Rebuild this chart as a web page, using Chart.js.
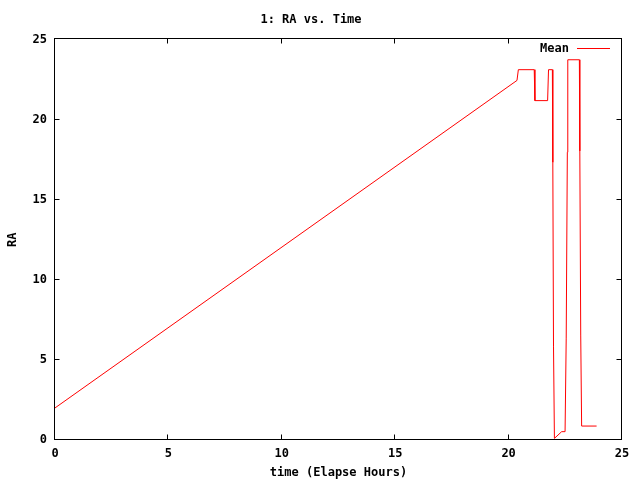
<!DOCTYPE html>
<html>
<head>
<meta charset="utf-8">
<script src="https://cdn.jsdelivr.net/npm/chart.js@4.4.0/dist/chart.umd.min.js"></script>
<style>
  html, body { margin: 0; padding: 0; background: #fff; }
  #wrap { width: 640px; height: 480px; }
</style>
</head>
<body>
<div id="wrap"><canvas id="raChart" width="640" height="480"></canvas></div>
<script>
// valores (tempo em horas, RA em horas)
var times = [0, 20.37, 20.43, 21.13, 21.16, 21.72, 21.76, 21.93, 21.95, 21.98, 22.02, 22.34, 22.49, 22.54, 22.59, 22.61, 23.12, 23.14, 23.18, 23.22, 23.88];
var raMean = [2.0, 22.44, 23.11, 23.11, 21.18, 21.18, 23.11, 23.11, 17.33, 5.86, 0.1, 0.52, 0.52, 6.36, 17.96, 23.73, 23.73, 18.04, 6.55, 0.87, 0.87];
var xTicks = [0, 5, 10, 15, 20, 25];
var yTicks = [0, 5, 10, 15, 20, 25];

var monoFont = { family: '"DejaVu Sans Mono", monospace', size: 12, weight: 'bold' };

var points = times.map(function (t, i) { return { x: t, y: raMean[i] }; });

// moldura estilo gnuplot com marcas para dentro nos quatro lados
var framePlugin = {
    id: 'frame',
    afterDatasetsDraw: function (chart) {
        var ctx = chart.ctx, a = chart.chartArea;
        var xs = chart.scales.x, ys = chart.scales.y;
        var L = Math.round(a.left) - 0.5, R = Math.round(a.right) - 0.5;
        var T = Math.round(a.top) - 0.5, B = Math.round(a.bottom) - 0.5;
        ctx.save();
        ctx.strokeStyle = '#000';
        ctx.lineWidth = 1;
        ctx.strokeRect(L, T, R - L, B - T);
        ctx.beginPath();
        xTicks.forEach(function (v) {
            var px = Math.round(xs.getPixelForValue(v)) - 0.5;
            ctx.moveTo(px, B); ctx.lineTo(px, B - 5);
            ctx.moveTo(px, T); ctx.lineTo(px, T + 5);
        });
        yTicks.forEach(function (v) {
            var py = Math.round(ys.getPixelForValue(v)) - 0.5;
            ctx.moveTo(L, py); ctx.lineTo(L + 5, py);
            ctx.moveTo(R, py); ctx.lineTo(R - 5, py);
        });
        ctx.stroke();
        ctx.restore();
    },
    afterDraw: function (chart) {
        // legenda dentro da área, texto à esquerda da amostra
        var ctx = chart.ctx, a = chart.chartArea;
        var ds = chart.data.datasets[0];
        var y = Math.round(a.top + 9) + 0.5;
        ctx.save();
        ctx.font = 'bold 12px "DejaVu Sans Mono", monospace';
        ctx.fillStyle = '#000';
        ctx.textAlign = 'right';
        ctx.textBaseline = 'middle';
        ctx.fillText(ds.label, a.right - 53, y);
        ctx.strokeStyle = ds.borderColor;
        ctx.lineWidth = 1;
        ctx.beginPath();
        ctx.moveTo(a.right - 45, y);
        ctx.lineTo(a.right - 12, y);
        ctx.stroke();
        ctx.restore();
    }
};

var raChart = new Chart(document.getElementById('raChart').getContext('2d'), {
    type: 'line',
    data: {
        datasets: [{
            label: 'Mean',
            data: points,
            borderColor: '#ff0000',
            backgroundColor: '#ff0000',
            borderWidth: 1,
            pointRadius: 0,
            tension: 0,
            fill: false
        }]
    },
    options: {
        responsive: false,
        animation: false,
        layout: { padding: { left: 0, right: 18, top: 0, bottom: 0 } },
        plugins: {
            legend: { display: false },
            tooltip: { enabled: false },
            title: {
                display: true,
                text: '1: RA vs. Time',
                color: '#000',
                font: monoFont,
                padding: { top: 13, bottom: 12 }
            }
        },
        scales: {
            x: {
                type: 'linear',
                min: 0,
                max: 25,
                afterBuildTicks: function (s) { s.ticks = xTicks.map(function (v) { return { value: v }; }); },
                afterFit: function (s) { s.height = 40; },
                grid: { display: false, drawTicks: false },
                border: { display: false },
                ticks: { color: '#000', font: monoFont, padding: 7, maxRotation: 0 },
                title: {
                    display: true,
                    text: 'time (Elapse Hours)',
                    color: '#000',
                    font: monoFont,
                    padding: { top: 0, bottom: 0 }
                }
            },
            y: {
                type: 'linear',
                min: 0,
                max: 25,
                afterBuildTicks: function (s) { s.ticks = yTicks.map(function (v) { return { value: v }; }); },
                afterFit: function (s) { s.width = 55; },
                grid: { display: false, drawTicks: false },
                border: { display: false },
                ticks: { color: '#000', font: monoFont, padding: 8 },
                title: {
                    display: true,
                    text: 'RA',
                    color: '#000',
                    font: monoFont,
                    padding: { top: 6, bottom: 0 }
                }
            }
        }
    },
    plugins: [framePlugin]
});
</script>
</body>
</html>
